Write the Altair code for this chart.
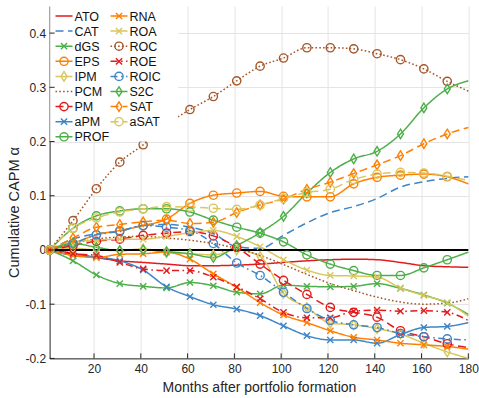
import altair as alt
import pandas as pd

# Months after formation at which the cumulative alphas are recorded
months = [1, 11, 21, 31, 41, 51, 61, 71, 81, 91, 101, 111, 121, 131, 141, 151, 161, 171, 180]
marker_months = months[:-1]

series = ["ATO", "CAT", "dGS", "EPS", "IPM", "PCM", "PM", "aPM", "PROF",
          "RNA", "ROA", "ROC", "ROE", "ROIC", "S2C", "SAT", "aSAT"]

# Cumulative CAPM alpha per signal
ato = [0, -0.006, -0.014, -0.020, -0.023, -0.026, -0.029, -0.029, -0.028, -0.026, -0.023, -0.020, -0.018, -0.017, -0.018, -0.023, -0.029, -0.031, -0.032]
cat = [0, 0.020, 0.030, 0.035, 0.045, 0.047, 0.042, 0.030, 0.006, 0.003, 0.027, 0.050, 0.069, 0.080, 0.095, 0.116, 0.126, 0.132, 0.135]
dgs = [0, -0.020, -0.046, -0.062, -0.067, -0.070, -0.060, -0.066, -0.078, -0.081, -0.065, -0.067, -0.068, -0.067, -0.062, -0.071, -0.083, -0.098, -0.119]
eps = [0, 0.012, 0.028, 0.036, 0.045, 0.057, 0.086, 0.101, 0.105, 0.108, 0.099, 0.098, 0.098, 0.122, 0.134, 0.138, 0.140, 0.135, 0.122]
ipm = [0, 0.003, 0.000, -0.001, 0.002, -0.005, -0.007, -0.009, 0.000, -0.012, -0.080, -0.106, -0.135, -0.138, -0.145, -0.155, -0.172, -0.188, -0.200]
pcm = [0, 0.012, 0.020, 0.024, 0.025, 0.022, 0.018, 0.012, 0.003, -0.010, -0.027, -0.045, -0.062, -0.075, -0.087, -0.096, -0.100, -0.098, -0.090]
pm = [0, 0.008, 0.016, 0.020, 0.027, 0.031, 0.034, 0.026, 0.005, -0.026, -0.056, -0.082, -0.106, -0.115, -0.124, -0.149, -0.160, -0.173, -0.180]
apm = [0, -0.010, -0.013, -0.020, -0.037, -0.068, -0.086, -0.101, -0.109, -0.121, -0.140, -0.158, -0.166, -0.166, -0.172, -0.156, -0.143, -0.141, -0.134]
prof = [0, 0.040, 0.063, 0.072, 0.076, 0.076, 0.070, 0.055, 0.042, 0.031, 0.015, -0.009, -0.026, -0.038, -0.047, -0.047, -0.033, -0.018, -0.004]
rna = [0, -0.010, -0.014, -0.008, -0.007, -0.004, -0.017, -0.044, -0.069, -0.097, -0.120, -0.134, -0.149, -0.161, -0.166, -0.172, -0.175, -0.178, -0.183]
roa = [0, 0.015, 0.018, 0.020, 0.020, 0.025, 0.032, 0.036, 0.025, 0.006, -0.018, -0.037, -0.047, -0.048, -0.050, -0.070, -0.084, -0.097, -0.122]
roc = [0, 0.054, 0.113, 0.162, 0.194, 0.231, 0.259, 0.283, 0.312, 0.339, 0.354, 0.373, 0.373, 0.371, 0.362, 0.351, 0.334, 0.311, 0.293]
roe = [0, -0.007, -0.010, -0.023, -0.035, -0.038, -0.038, -0.050, -0.068, -0.090, -0.115, -0.125, -0.125, -0.113, -0.111, -0.113, -0.112, -0.115, -0.130]
roic = [0, 0.012, 0.028, 0.034, 0.045, 0.042, 0.036, 0.012, -0.024, -0.047, -0.078, -0.108, -0.130, -0.138, -0.143, -0.154, -0.160, -0.164, -0.166]
s2c = [0, 0.012, 0.005, -0.001, 0.000, -0.003, -0.007, -0.014, 0.008, 0.032, 0.062, 0.105, 0.143, 0.168, 0.182, 0.214, 0.262, 0.297, 0.312]
sat = [0, 0.022, 0.042, 0.047, 0.052, 0.055, 0.049, 0.051, 0.069, 0.083, 0.094, 0.112, 0.125, 0.141, 0.157, 0.174, 0.196, 0.214, 0.226]
asat = [0, 0.040, 0.059, 0.070, 0.076, 0.080, 0.079, 0.077, 0.075, 0.083, 0.095, 0.106, 0.112, 0.130, 0.140, 0.143, 0.142, 0.136, 0.128]

values = dict(zip(series, [ato, cat, dgs, eps, ipm, pcm, pm, apm, prof,
                           rna, roa, roc, roe, roic, s2c, sat, asat]))

# Line styles: colour, dash pattern, marker symbol
RED, BLUE, GREEN, ORANGE, YELLOW, BROWN = "#E41A1C", "#3D85C6", "#4DAF4A", "#FF7F00", "#D9C65C", "#A65628"
SOLID, DASH, DOT, DASHDOT = [1, 0], [8, 4.5], [1.6, 2.2], [7, 3.5, 1.6, 3.5]
CIRCLE = "circle"
XMARK = "M-0.75,-0.75L0.75,0.75M-0.75,0.75L0.75,-0.75"
DIAMOND = "M0,-1.15L0.72,0L0,1.15L-0.72,0Z"

style = {
    "ATO": (RED, SOLID, None),
    "CAT": (BLUE, DASH, None),
    "dGS": (GREEN, SOLID, XMARK),
    "EPS": (ORANGE, SOLID, CIRCLE),
    "IPM": (YELLOW, SOLID, DIAMOND),
    "PCM": (BROWN, DOT, None),
    "PM": (RED, DASH, CIRCLE),
    "aPM": (BLUE, SOLID, XMARK),
    "PROF": (GREEN, SOLID, CIRCLE),
    "RNA": (ORANGE, SOLID, XMARK),
    "ROA": (YELLOW, SOLID, XMARK),
    "ROC": (BROWN, DOT, CIRCLE),
    "ROE": (RED, DASHDOT, XMARK),
    "ROIC": (BLUE, DASHDOT, CIRCLE),
    "S2C": (GREEN, SOLID, DIAMOND),
    "SAT": (ORANGE, DASH, DIAMOND),
    "aSAT": (YELLOW, DASH, CIRCLE),
}
marked = [s for s in series if style[s][2]]

FONT = "Liberation Sans"
INK = "#262626"
W, H = 418.7, 352.4

df = pd.DataFrame([{"series": s, "month": m, "alpha": v}
                   for s in series for m, v in zip(months, values[s])])
pts = df[df["series"].isin(marked) & df["month"].isin(marker_months)]

x_scale = alt.Scale(domain=[1, 180], nice=False, zero=False)
y_scale = alt.Scale(domain=[-0.2, 0.45], nice=False, zero=False)
color_scale = alt.Scale(domain=series, range=[style[s][0] for s in series])
dash_scale = alt.Scale(domain=series, range=[style[s][1] for s in series])
shape_scale = alt.Scale(domain=marked, range=[style[s][2] for s in marked])

x_ticks = list(range(20, 181, 20))
y_ticks = [-0.2, -0.1, 0, 0.1, 0.2, 0.3, 0.4]

x_axis = alt.Axis(values=x_ticks, format="d", title="Months after portfolio formation",
                  grid=True, gridColor="#E4E4E4", ticks=False, domainColor=INK,
                  labelFlush=False, labelPadding=5, labelFontSize=12, labelColor=INK,
                  labelFont=FONT, titleFont=FONT, titleFontSize=14, titleFontWeight="normal",
                  titleColor=INK, titlePadding=6)
y_axis = alt.Axis(values=y_ticks, title="Cumulative CAPM α",
                  labelExpr="abs(datum.value) < 1e-9 ? '0' : toString(round(datum.value * 10) / 10)",
                  grid=True, gridColor="#E4E4E4", ticks=False, domainColor=INK,
                  labelPadding=4, labelFontSize=12, labelColor=INK, labelFont=FONT,
                  titleFont=FONT, titleFontSize=14.5, titleFontWeight="normal",
                  titleColor=INK, titleAngle=270, titleAlign="center", titleBaseline="middle",
                  titleX=-35.6, titleY=206)

lines = alt.Chart(df).mark_line(strokeWidth=1.5, interpolate="monotone").encode(
    x=alt.X("month:Q", scale=x_scale, axis=x_axis),
    y=alt.Y("alpha:Q", scale=y_scale, axis=y_axis),
    color=alt.Color("series:N", scale=color_scale, legend=None),
    strokeDash=alt.StrokeDash("series:N", scale=dash_scale, legend=None),
)

zero = alt.Chart(pd.DataFrame({"y": [0]})).mark_rule(color="black", strokeWidth=2).encode(
    y=alt.Y("y:Q", scale=y_scale, axis=None))

markers = alt.Chart(pts).mark_point(filled=False, size=68, strokeWidth=1.4, opacity=1).encode(
    x=alt.X("month:Q", scale=x_scale, axis=None),
    y=alt.Y("alpha:Q", scale=y_scale, axis=None),
    color=alt.Color("series:N", scale=color_scale, legend=None),
    shape=alt.Shape("series:N", scale=shape_scale, legend=None),
)

# Two-column legend, filled column by column
leg = pd.DataFrame({"series": series,
                    "col": [i // 9 for i in range(len(series))],
                    "row": [i % 9 for i in range(len(series))]})
leg_marked = leg[leg["series"].isin(marked)]
lx = alt.X("col:O", scale=alt.Scale(domain=[0, 1], range=[14.4, 69.4], padding=0), axis=None)
ly = alt.Y("row:O", scale=alt.Scale(domain=list(range(9)), range=[10, 130.8], padding=0), axis=None)

leg_bg = alt.Chart(pd.DataFrame({"k": [0]})).mark_rect(fill="white").encode(
    x=alt.value(0.6), x2=alt.value(128.5), y=alt.value(-1), y2=alt.value(135.5))
leg_line = alt.Chart(leg).mark_point(shape="M-1,0L1,0", size=289, filled=False,
                                     strokeWidth=1.5, opacity=1).encode(
    x=lx, y=ly,
    color=alt.Color("series:N", scale=color_scale, legend=None),
    strokeDash=alt.StrokeDash("series:N", scale=dash_scale, legend=None))
leg_mark = alt.Chart(leg_marked).mark_point(filled=False, size=68, strokeWidth=1.4, opacity=1).encode(
    x=lx, y=ly,
    color=alt.Color("series:N", scale=color_scale, legend=None),
    shape=alt.Shape("series:N", scale=shape_scale, legend=None))
leg_text = alt.Chart(leg).mark_text(align="left", baseline="middle", dx=10.5, dy=0.5,
                                    font=FONT, fontSize=12.5, color="#111111").encode(
    x=lx, y=ly, text="series:N")

# Inward tick marks on the left and bottom axes
yt = alt.Chart(pd.DataFrame({"v": y_ticks})).mark_rule(color=INK, strokeWidth=1).encode(
    y=alt.Y("v:Q", scale=y_scale, axis=None), x=alt.value(0), x2=alt.value(5))
xt = alt.Chart(pd.DataFrame({"m": x_ticks})).mark_rule(color=INK, strokeWidth=1).encode(
    x=alt.X("m:Q", scale=x_scale, axis=None), y=alt.value(H), y2=alt.value(H - 5))

chart = alt.layer(
    lines, zero, markers, leg_bg, leg_line, leg_mark, leg_text, yt, xt
).resolve_scale(
    x="independent", y="independent"
).properties(
    width=W, height=H,
    autosize=alt.AutoSizeParams(type="none"),
    padding={"left": 49.6, "top": 6, "right": 10.7, "bottom": 39.6},
    background="white",
).configure_view(stroke=None)

chart.save("out.html", embed_options={"renderer": "svg", "actions": False})
